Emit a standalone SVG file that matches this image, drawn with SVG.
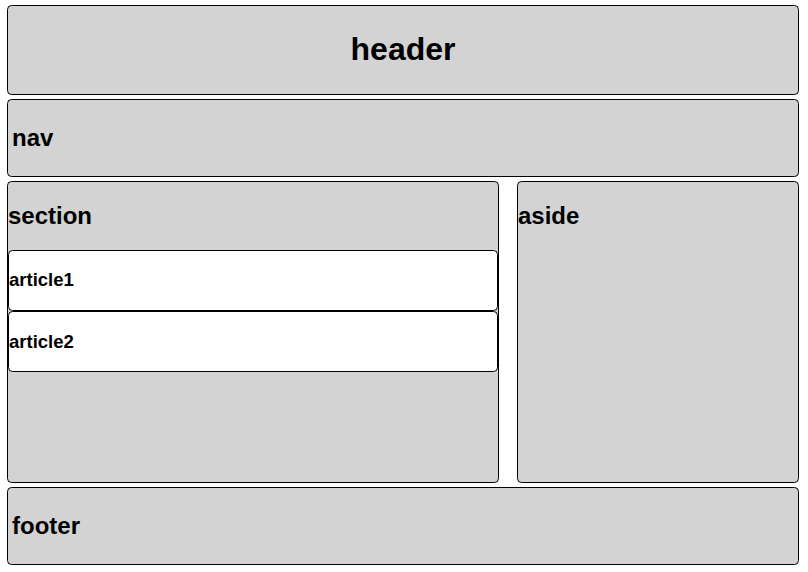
<svg xmlns="http://www.w3.org/2000/svg" width="808" height="572" viewBox="0 0 808 572">
<style>
.box{fill:#d3d3d3;stroke:#000;stroke-width:1}
.art{fill:#fff;stroke:#000;stroke-width:1}
text{font-family:"Liberation Sans",Arial,sans-serif;font-weight:bold;fill:#000}
.l{font-size:24px}
.a{font-size:18.5px}
</style>
<rect width="808" height="572" fill="#fff"/>
<g id="header"><rect class="box" x="7.5" y="5.5" width="791" height="89" rx="4"/><text x="403" y="60" font-size="32" text-anchor="middle">header</text></g>
<g id="nav"><rect class="box" x="7.5" y="99.5" width="791" height="77" rx="4"/><text class="l" x="12" y="146">nav</text></g>
<g id="section"><rect class="box" x="7.5" y="181.5" width="491" height="301" rx="4"/><text class="l" x="8" y="224">section</text></g>
<g id="article1"><rect class="art" x="8.5" y="250.5" width="489" height="60" rx="4"/><text class="a" x="9" y="286">article1</text></g>
<g id="article2"><rect class="art" x="8.5" y="311.5" width="489" height="60" rx="4"/><text class="a" x="9" y="348">article2</text></g>
<g id="aside"><rect class="box" x="517.5" y="181.5" width="281" height="301" rx="4"/><text class="l" x="518" y="224">aside</text></g>
<g id="footer"><rect class="box" x="7.5" y="487.5" width="791" height="77" rx="4"/><text class="l" x="12" y="534">footer</text></g>
<g id="connectors"/>
</svg>
